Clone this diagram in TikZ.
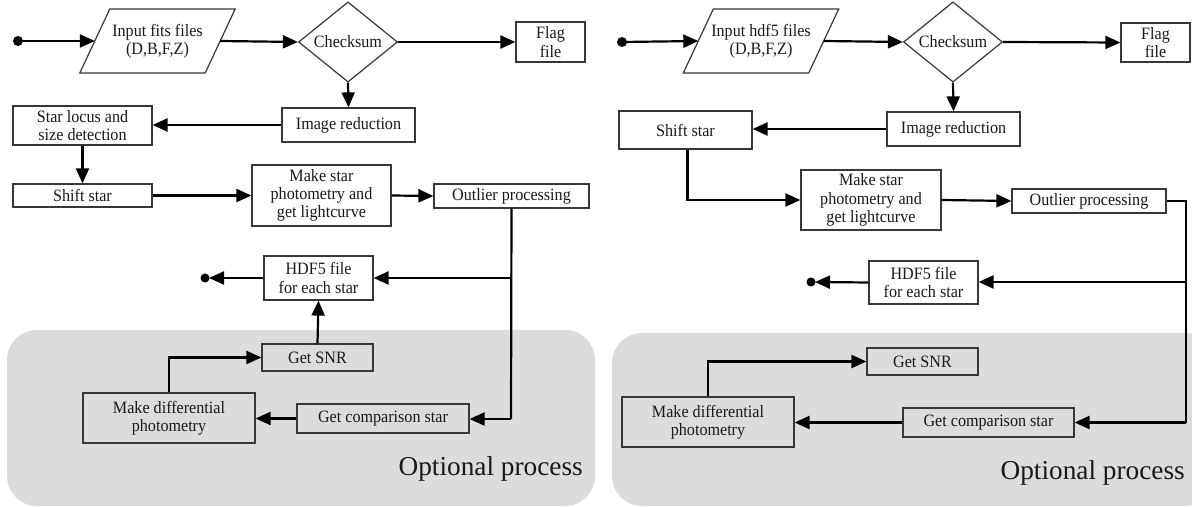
\documentclass[tikz,border=0pt]{standalone}
\usepackage{fontspec}
\setmainfont{Liberation Serif}[FakeStretch=0.93]
\newfontfamily\optfont{Liberation Serif}
\usetikzlibrary{arrows.meta,shapes.geometric,calc}
\definecolor{optgray}{RGB}{220,220,220}
\definecolor{boxline}{RGB}{55,55,55}
\definecolor{txt}{RGB}{25,25,25}
\tikzset{
  box/.style={draw=boxline, line width=1.2bp, inner sep=0pt, align=center, text=txt,
    font=\fontsize{17.4}{18.4}\selectfont},
  para/.style={inner sep=0pt, align=center, text=txt, font=\fontsize{17.4}{18.4}\selectfont},
  dia/.style={draw=boxline, line width=1.2bp, shape=diamond, inner sep=0pt, minimum width=99bp,
    minimum height=69bp, text=txt, font=\fontsize{17.4}{18.4}\selectfont},
  conn/.style={line width=2.2bp, -{Triangle[length=15bp,width=13bp]}},
  line/.style={line width=2.2bp},
  optbg/.style={fill=optgray, rounded corners=30bp},
  opttext/.style={anchor=base east, text=txt, font=\optfont\fontsize{27.4}{30}\selectfont, inner sep=0pt}
}
\newcommand{\paraoutline}[1]{%
  \draw[draw=boxline, line width=1.2bp] ($(#1.west)+(15bp,32bp)$) -- ($(#1.east)+(15bp,32bp)$)
    -- ($(#1.east)+(-15bp,-32bp)$) -- ($(#1.west)+(-15bp,-32bp)$) -- cycle;}
\begin{document}
\begin{tikzpicture}[x=1bp,y=-1bp]
\useasboundingbox (0,0) rectangle (1192,507);
% backgrounds
\fill[optbg] (7,330) rectangle (595,506);
\begin{scope}
\clip (0,0) rectangle (1192,507);
\fill[optbg] (612,333) rectangle (1215,506);
\end{scope}
\node[opttext] (optL) at (583,475) {Optional process};
\node[opttext] (optR) at (1185,479) {Optional process};

% ---------------- LEFT ----------------
\coordinate (sL) at (18,41);
\fill (sL) circle (5bp);
\node[para, minimum width=125bp, minimum height=64bp] (inL) at (157.5,41) {Input fits files\\(D,B,F,Z)};
\paraoutline{inL}
\node[dia] (chkL) at (348,42) {Checksum};
\node[box, minimum width=69bp, minimum height=40bp] (flagL) at (550.5,42) {Flag\\file};
\node[box, minimum width=133bp, minimum height=34bp] (imgL) at (348.5,125) {Image reduction};
\node[box, minimum width=139bp, minimum height=39bp] (locL) at (82.5,125.5) {Star locus and\\size detection};
\node[box, minimum width=139bp, minimum height=23bp] (shiftL) at (82.5,195.5) {Shift star};
\node[box, minimum width=139bp, minimum height=61bp] (makeL) at (321.5,195.5) {Make star\\photometry and\\get lightcurve};
\node[box, minimum width=155bp, minimum height=24bp] (outL) at (511.5,196) {Outlier processing};
\node[box, minimum width=109bp, minimum height=44bp] (hdfL) at (318.5,278) {HDF5 file\\for each star};
\node[box, minimum width=111bp, minimum height=27bp] (snrL) at (317.5,357.5) {Get SNR};
\node[box, minimum width=172bp, minimum height=50bp] (mdL) at (169,418) {Make differential\\photometry};
\node[box, minimum width=172bp, minimum height=29bp] (cmpL) at (383,418.5) {Get comparison star};
\coordinate (eL) at (205,278);
\fill (eL) circle (4.5bp);
\coordinate (jL) at (511,278);
\coordinate (cL) at (511,419);

\draw[conn] (sL) -- (inL.west);
\draw[conn] (inL.east) -- (chkL.west);
\draw[conn] (chkL.east) -- (flagL.west);
\draw[conn] (chkL.south) -- (imgL.north);
\draw[conn] (imgL.west) -- (imgL.west -| locL.east);
\draw[conn] (locL.south) -- (shiftL.north);
\draw[conn] (shiftL.east) -- (makeL.west);
\draw[conn] (makeL.east) -- (outL.west);
\draw[line] (outL.south) -- (cL);
\draw[conn] (cL) -- (cL -| cmpL.east);
\draw[conn] (jL) -- (jL -| hdfL.east);
\draw[conn] (cmpL.west) -- (cmpL.west -| mdL.east);
\draw[conn] (mdL.north) |- (snrL.west);
\draw[conn] (snrL.north) -- (hdfL.south);
\draw[conn] (hdfL.west) -- ($(eL)+(4bp,0)$);

% ---------------- RIGHT ----------------
\coordinate (sR) at (622,42);
\fill (sR) circle (5bp);
\node[para, minimum width=125bp, minimum height=64bp] (inR) at (761,41) {Input hdf5 files\\(D,B,F,Z)};
\paraoutline{inR}
\node[dia] (chkR) at (953,42) {Checksum};
\node[box, minimum width=69bp, minimum height=39bp] (flagR) at (1155.5,42.5) {Flag\\file};
\node[box, minimum width=133bp, minimum height=34bp] (imgR) at (953.5,129) {Image reduction};
\node[box, minimum width=133bp, minimum height=38bp] (shiftR) at (685.5,130) {Shift star};
\node[box, minimum width=140bp, minimum height=60bp] (makeR) at (871,200) {Make star\\photometry and\\get lightcurve};
\node[box, minimum width=154bp, minimum height=24bp] (outR) at (1089,201) {Outlier processing};
\node[box, minimum width=109bp, minimum height=43bp] (hdfR) at (923.5,282.5) {HDF5 file\\for each star};
\node[box, minimum width=111bp, minimum height=27bp] (snrR) at (922.5,361.5) {Get SNR};
\node[box, minimum width=172bp, minimum height=50bp] (mdR) at (708,422) {Make differential\\photometry};
\node[box, minimum width=171bp, minimum height=29bp] (cmpR) at (988.5,422.5) {Get comparison star};
\coordinate (eR) at (811,282);
\fill (eR) circle (4.5bp);
\coordinate (tR) at (1186,201);
\coordinate (jR) at (1186,282);
\coordinate (cR) at (1186,422.5);

\draw[conn] (sR) -- (inR.west);
\draw[conn] (inR.east) -- (chkR.west);
\draw[conn] (chkR.east) -- (flagR.west);
\draw[conn] (chkR.south) -- (imgR.north);
\draw[conn] (imgR.west) -- (imgR.west -| shiftR.east);
\draw[conn] ([xshift=2bp]shiftR.south) |- (makeR.west);
\draw[conn] (makeR.east) -- (outR.west);
\draw[line] (outR.east) -- (tR) -- (cR);
\draw[conn] (cR) -- (cmpR.east);
\draw[conn] (jR) -- (jR -| hdfR.east);
\draw[conn] (cmpR.west) -- (cmpR.west -| mdR.east);
\draw[conn] (mdR.north) |- (snrR.west);
\draw[conn] (hdfR.west) -- ($(eR)+(4bp,0)$);
\end{tikzpicture}
\end{document}
